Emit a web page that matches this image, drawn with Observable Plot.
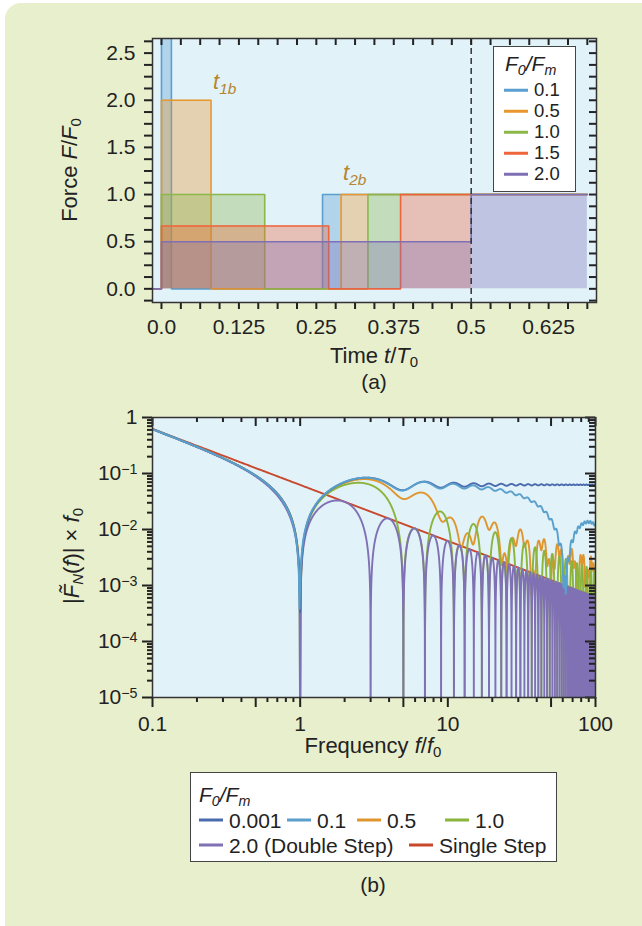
<!DOCTYPE html>
<html>
<head>
<meta charset="utf-8">
<script src="https://cdn.jsdelivr.net/npm/d3@7"></script>
<script src="https://cdn.jsdelivr.net/npm/@observablehq/plot@0.6"></script>
<style>
  body { margin: 0; background: #fff; font-family: "Liberation Sans", Arial, sans-serif; color: #222; }
  #page { position: relative; width: 642px; height: 926px; overflow: hidden; }
  #panel { position: absolute; left: 5px; top: 3px; width: 660px; height: 950px; border-radius: 16px; background: #e8efcc; }
  .svgbox { position: absolute; left: 0; }
  .lbl { position: absolute; transform: translate(-50%, -50%); white-space: nowrap; line-height: 1; font-size: 22px; }
  .rot { transform: translate(-50%, -50%) rotate(-90deg); }
  sub { font-size: 0.68em; vertical-align: -0.28em; line-height: 0; }
  .legend { position: absolute; background: #fff; border: 1.5px solid #444; box-sizing: border-box; }
  .legend .head { position: absolute; font-style: italic; font-size: 21px; line-height: 1; white-space: nowrap; }
  .legend .item { position: absolute; display: flex; align-items: center; font-size: 21px; line-height: 1; white-space: nowrap; transform: translateY(-50%); }
  #legendA .item { font-size: 18.5px; }
  .legend .sw { display: inline-block; width: 24px; height: 2.5px; margin-right: 6px; }
</style>
</head>
<body>
<div id="page">
  <div id="panel"></div>
  <div id="plotA" class="svgbox" style="top:0px"></div>
  <div id="plotB" class="svgbox" style="top:380px"></div>

  <div class="lbl rot" style="left:70px;top:170px">Force <i>F</i>/<i>F</i><sub>0</sub></div>
  <div class="lbl" style="left:374px;top:356px">Time <i>t</i>/<i>T</i><sub>0</sub></div>
  <div class="lbl" style="left:374px;top:381px;font-size:21px">(a)</div>

  <div class="lbl rot" style="left:72px;top:556px">|<i>F&#771;</i><sub><i>N</i></sub>(<i>f</i>)| × <i>f</i><sub>0</sub></div>
  <div class="lbl" style="left:373px;top:746px">Frequency <i>f</i>/<i>f</i><sub>0</sub></div>
  <div class="lbl" style="left:373px;top:884px;font-size:21px">(b)</div>

  <div id="legendA" class="legend" style="left:493px;top:46px;width:83px;height:146px"></div>
  <div id="legendB" class="legend" style="left:190px;top:772px;width:367px;height:90px"></div>
</div>

<script>
// ---------- Panel (a): force histories, time in units of T0, force in units of F0 ----------
const ratiosA   = ["0.1", "0.5", "1.0", "1.5", "2.0"];          // F0/Fm
const colorsA   = ["#5a9fd0", "#e8962e", "#8cb84a", "#f0643c", "#7f6fb4"];
const pulseA    = [10, 2, 1, 0.667, 0.5];                          // Fm/F0 during the first pulse
const t1bA      = [0.016, 0.080, 0.16667, 0.270, 0.5];             // end of the first pulse
const t2bA      = [0.260, 0.290, 0.33333, 0.386, 0.5];             // start of the final level F0
const shadeEndA = [0.290, 0.33333, 0.386, 0.5, 0.6875];            // where each shaded area stops
const tStart = -0.0145, tEnd = 0.6875;
const halfPeriod = [0.5];

const timeTicks = d3.range(0, 0.7, 0.03125);
const timeLabelValues = [0, 0.125, 0.25, 0.375, 0.5, 0.625];
const timeLabelText   = ["0.0", "0.125", "0.25", "0.375", "0.5", "0.625"];
const forceTicks = d3.range(-0.125, 2.7, 0.125);
const forceLabelValues = [0, 0.5, 1, 1.5, 2, 2.5];
const forceLabelText   = ["0.0", "0.5", "1.0", "1.5", "2.0", "2.5"];

// ---------- Panel (b): spectra of the same force histories ----------
const namesB  = ["0.001", "0.1", "0.5", "1.0", "2.0 (Double Step)", "Single Step"];
const colorsB = ["#4a6cae", "#5aa0cc", "#e0962e", "#8ab43c", "#8070b4", "#c8482c"];
const pulseB  = [1000, 10, 2, 1, 0.5, 0];
const t1bB    = [0.00016, 0.016, 0.080, 0.16667, 0.5, 0];
const t2bB    = [0.25008, 0.260, 0.290, 0.33333, 0.5, 0];
const drawOrderB = [5, 2, 3, 4, 0, 1];
const stepAtF0 = 0.0625;            // single-step |F~|·f0 at f = f0

const freqMajor = [0.1, 0.5, 1, 5, 10, 50, 100];
const freqLabels = ["0.1", "0.5", "1", "5", "10", "50", "100"];
const freqMinor = [0.2, 0.3, 0.4, 0.6, 0.7, 0.8, 0.9, 2, 3, 4, 6, 7, 8, 9, 20, 30, 40, 60, 70, 80, 90];
const magMajor = [1e-5, 1e-4, 1e-3, 1e-2, 1e-1, 1];
const magMinor = [-5, -4, -3, -2, -1].flatMap(k => [2, 3, 4, 5, 6, 7, 8, 9].map(m => m * Math.pow(10, k)));

const plotBg = "#e1f2f9";
const ink = "#222";
const svgStyle = {background: "none", fontFamily: '"Liberation Sans", Arial, sans-serif', fontSize: "21px", color: ink, overflow: "visible"};

// Step points of one force history: pulse Fm on [0, t1b], zero until t2b, then F0
function history(i, stop) {
  const L = pulseA[i], a = t1bA[i], b = t2bA[i];
  const pts = [{t: tStart, F: 0}, {t: 0, F: L}];
  if (b > a) pts.push({t: a, F: 0});
  pts.push({t: b, F: 1}, {t: tEnd, F: 1});
  if (stop === undefined) return pts;
  const kept = pts.filter(p => p.t < stop);
  kept.push({t: stop, F: kept[kept.length - 1].F});
  return kept;
}

const seriesMarksA = ratiosA.flatMap((r, i) => [
  Plot.areaY(history(i, shadeEndA[i]), {x: "t", y: "F", curve: "step-after", fill: colorsA[i], fillOpacity: 0.35, clip: true}),
  Plot.line(history(i), {x: "t", y: "F", curve: "step-after", stroke: colorsA[i], strokeWidth: 1.6, clip: true})
]);

const lookup = (values, texts) => d => { const k = values.findIndex(v => Math.abs(v - d) < 1e-9); return k < 0 ? "" : texts[k]; };

const innerWA = 642 - 152 - 46, innerHA = 345 - 38 - 43;
const plotA = Plot.plot({
  width: 642, height: 345,
  marginTop: 38, marginLeft: 152, marginRight: 46, marginBottom: 43,
  x: {domain: [tStart, 0.7023], label: null},
  y: {domain: [-0.145, 2.655], label: null},
  style: svgStyle,
  marks: [
    Plot.frame({fill: plotBg, stroke: null}),
    ...seriesMarksA,
    Plot.ruleX(halfPeriod, {stroke: "#333", strokeWidth: 1.5, strokeDasharray: "6,4"}),
    Plot.text([{t: t1bA[1], F: pulseA[1]}], {x: "t", y: "F", text: () => "t1b", dx: 2, dy: -18, textAnchor: "start", fill: "#b5852f", fontSize: 22, fontStyle: "italic"}),
    Plot.text([{t: t2bA[1], F: 1}], {x: "t", y: "F", text: () => "t2b", dx: 2, dy: -22, textAnchor: "start", fill: "#b5852f", fontSize: 22, fontStyle: "italic"}),
    Plot.axisX({anchor: "bottom", ticks: timeTicks, tickFormat: lookup(timeLabelValues, timeLabelText), tickSize: 7, tickPadding: 10, strokeWidth: 2, label: null}),
    Plot.axisY({anchor: "left", ticks: forceTicks, tickFormat: lookup(forceLabelValues, forceLabelText), tickSize: 8, tickPadding: 9, strokeWidth: 2, label: null}),
    Plot.tickX(timeTicks, {x: d => d, insetBottom: innerHA - 7, stroke: ink, strokeWidth: 2}),
    Plot.tickY(forceTicks, {y: d => d, insetLeft: innerWA - 7, stroke: ink, strokeWidth: 2}),
    Plot.frame({stroke: "#333", strokeWidth: 1.5})
  ]
});
document.getElementById("plotA").appendChild(plotA);

// t1b / t2b labels with subscripts
d3.select(plotA).selectAll("text").each(function() {
  const s = this.textContent;
  if (s === "t1b" || s === "t2b") {
    const el = d3.select(this);
    el.text(null);
    el.append("tspan").text("t");
    el.append("tspan").attr("dy", "0.32em").attr("font-size", "0.7em").text(s.slice(1));
  }
});

// Spectrum magnitude of a force history made of steps: up Fm at 0, down Fm at t1b, up F0 at t2b
const freq = d3.range(0, 9991).map(k => 0.1 + k * 0.01);
function spectrum(L, t1, t2) {
  return freq.map(f => {
    const a = 2 * Math.PI * f * t1, b = 2 * Math.PI * f * t2;
    const re = L * (1 - Math.cos(a)) + Math.cos(b);
    const im = L * Math.sin(a) - Math.sin(b);
    return {f, m: Math.max(stepAtF0 / f * Math.hypot(re, im), 1e-6)};
  });
}

const lineMarksB = drawOrderB.map(i =>
  Plot.line(spectrum(pulseB[i], t1bB[i], t2bB[i]), {x: "f", y: "m", stroke: colorsB[i], strokeWidth: 1.9, clip: true})
);

const innerWB = 642 - 152 - 47, innerHB = 362 - 37 - 45;
const plotB = Plot.plot({
  width: 642, height: 362,
  marginTop: 37, marginLeft: 152, marginRight: 47, marginBottom: 45,
  x: {type: "log", domain: [0.1, 100], label: null},
  y: {type: "log", domain: [1e-5, 1], label: null},
  style: svgStyle,
  marks: [
    Plot.frame({fill: plotBg, stroke: null}),
    ...lineMarksB,
    Plot.axisX({anchor: "bottom", ticks: freqMajor, tickFormat: lookup(freqMajor, freqLabels), tickSize: 10, tickPadding: 9, strokeWidth: 2, label: null}),
    Plot.axisX({anchor: "bottom", ticks: freqMinor, tickFormat: () => "", tickSize: 5, strokeWidth: 2, label: null}),
    Plot.axisY({anchor: "left", ticks: magMajor, tickFormat: d => d === 1 ? "1" : "10^" + Math.round(Math.log10(d)), tickSize: 10, tickPadding: 5, strokeWidth: 2, label: null}),
    Plot.axisY({anchor: "left", ticks: magMinor, tickFormat: () => "", tickSize: 5, strokeWidth: 2, label: null}),
    Plot.tickX(freqMajor, {x: d => d, insetBottom: innerHB - 9, stroke: ink, strokeWidth: 2}),
    Plot.tickX(freqMinor, {x: d => d, insetBottom: innerHB - 5, stroke: ink, strokeWidth: 2}),
    Plot.tickY(magMajor, {y: d => d, insetLeft: innerWB - 10, stroke: ink, strokeWidth: 2}),
    Plot.tickY(magMinor, {y: d => d, insetLeft: innerWB - 6, stroke: ink, strokeWidth: 2}),
    Plot.frame({stroke: "#333", strokeWidth: 1.5})
  ]
});
document.getElementById("plotB").appendChild(plotB);

// powers of ten with raised exponents
d3.select(plotB).selectAll("text").each(function() {
  const m = /^10\^(-?\d+)$/.exec(this.textContent);
  if (m) {
    const el = d3.select(this);
    el.text(null);
    el.append("tspan").text("10");
    el.append("tspan").attr("dy", "-0.45em").attr("font-size", "0.68em").text(m[1].replace("-", "\u2212"));
  }
});

// Legends
const legA = document.getElementById("legendA");
legA.innerHTML = '<div class="head" style="left:11px;top:6px"><i>F</i><sub>0</sub>/<i>F</i><sub><i>m</i></sub></div>' +
  ratiosA.map((r, i) =>
    `<div class="item" style="left:10px;top:${43 + i * 21}px"><span class="sw" style="background:${colorsA[i]}"></span>${r}</div>`
  ).join("");

const legB = document.getElementById("legendB");
const legBPos = [[8, 47], [96, 47], [166, 47], [254, 47], [8, 72], [218, 72]];
legB.innerHTML = '<div class="head" style="left:8px;top:11px"><i>F</i><sub>0</sub>/<i>F</i><sub><i>m</i></sub></div>' +
  namesB.map((n, i) =>
    `<div class="item" style="left:${legBPos[i][0]}px;top:${legBPos[i][1]}px"><span class="sw" style="background:${colorsB[i]}"></span>${n}</div>`
  ).join("");
</script>
</body>
</html>
